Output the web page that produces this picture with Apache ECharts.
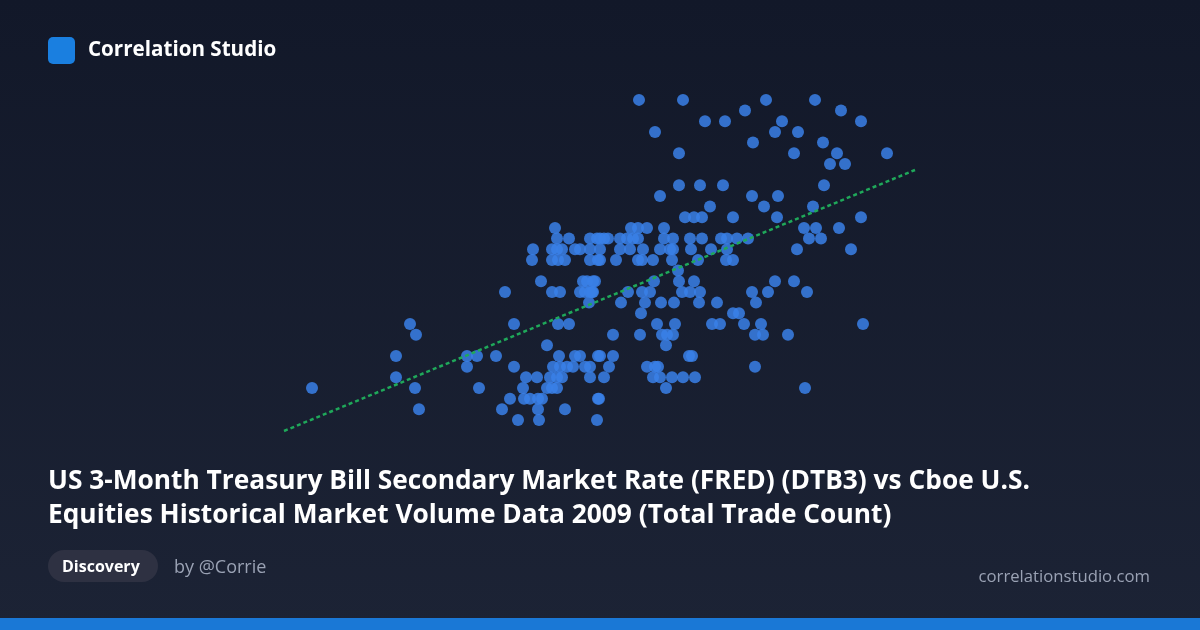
<!DOCTYPE html>
<html>
<head>
<meta charset="utf-8">
<script src="https://cdn.jsdelivr.net/npm/echarts@6/dist/echarts.min.js"></script>
<style>
  html, body { margin: 0; padding: 0; }
  #chart { width: 1200px; height: 630px; }
</style>
</head>
<body>
<div id="chart"></div>
<script>
// 3-month T-bill rate (%) levels, and total trade count (thousands) observed at each level
const rateLevels = [0.01, 0.02, 0.03, 0.04, 0.05, 0.06, 0.07, 0.08, 0.09, 0.10,
  0.11, 0.12, 0.13, 0.14, 0.15, 0.16, 0.17, 0.18, 0.19, 0.20,
  0.21, 0.22, 0.23, 0.24, 0.25, 0.26, 0.27, 0.28, 0.29, 0.30, 0.31];
const tradeCounts = [
  [518, 539, 597],
  [419, 502, 538, 565],
  [510, 524, 530, 538, 542, 598, 599],
  [312, 415, 479, 523, 547, 552, 557, 666, 805],
  [396, 526, 537, 550, 557, 562, 590, 604, 653, 660, 672, 683, 695],
  [467, 514, 553, 560, 567, 573, 585, 590, 609, 647, 655, 658, 755],
  [396, 467, 477, 496, 559, 575, 580, 598, 600, 613, 689, 692],
  [547, 666],
  [416, 613, 640, 662, 667, 673, 755, 763, 788],
  [410, 514, 558, 569, 657, 675, 712, 720, 744, 761, 863],
  [641, 733, 739],
  [589, 621, 645, 661, 674, 699, 717, 756],
  [505, 552, 560, 580, 585, 590, 593, 592, 628, 642, 650, 682, 690, 700, 752, 768, 807],
  [541, 583, 587, 595, 593, 654, 679, 694, 775, 794],
  [678],
  [532, 552, 558, 565, 590, 598, 600, 616, 638, 642, 653, 672, 698, 726, 733],
  [533, 552, 557, 562, 575, 580, 590, 600, 620, 630, 643, 660, 670, 673, 691, 711, 727, 797, 851],
  [557, 569, 590, 597, 600, 604, 608, 620, 627, 633, 638, 664, 673, 690, 702, 721, 727, 737, 748, 809, 821],
  [555, 631, 638, 647, 664, 804, 816, 839],
  [685, 694, 702, 733, 777, 861],
  [710, 764, 813],
  [660, 752, 778],
  [679, 700, 723, 824],
  [],
  [830, 845],
  [679, 794, 837, 887],
  [753, 823],
  [655, 775, 798],
  [705, 725, 782, 861],
  [745, 841],
  [639, 683, 766, 815]
];
// least-squares fit endpoints
const fitCounts = [284, 915];
const fitRates = [-0.0003, 0.2443];

const points = [];
rateLevels.forEach((r, i) => {
  tradeCounts[i].forEach(c => points.push([c, r]));
});

const chart = echarts.init(document.getElementById('chart'));
const font = '"Open Sans", "Noto Sans", sans-serif';

chart.setOption({
  backgroundColor: new echarts.graphic.LinearGradient(0, 0, 0, 1, [
    { offset: 0, color: '#121829' },
    { offset: 1, color: '#1c2335' }
  ]),
  animation: false,
  grid: { left: 0, right: 0, top: 0, bottom: 0 },
  xAxis: { type: 'value', min: 0, max: 1200, show: false },
  yAxis: { type: 'value', min: -0.1868, max: 0.4036, show: false },
  series: [
    {
      type: 'scatter',
      data: points,
      symbolSize: 12,
      itemStyle: { color: '#3a80e8', opacity: 0.85 }
    },
    {
      type: 'line',
      data: fitCounts.map((c, i) => [c, fitRates[i]]),
      symbol: 'none',
      lineStyle: { color: '#1fa85a', width: 2.5, type: [4, 3] }
    }
  ],
  graphic: [
    { type: 'rect', left: 48, top: 37, shape: { width: 27, height: 27, r: 5 }, style: { fill: '#1a7fe0' } },
    { type: 'text', left: 88, top: 40, style: { text: 'Correlation Studio', fill: '#ffffff', font: 'bold 20.6px ' + font } },
    { type: 'text', left: 48, top: 464, style: {
      text: 'US 3-Month Treasury Bill Secondary Market Rate (FRED) (DTB3) vs Cboe U.S.\nEquities Historical Market Volume Data 2009 (Total Trade Count)',
      fill: '#ffffff', font: 'bold 26.3px ' + font, lineHeight: 34.5 } },
    { type: 'rect', left: 48, top: 550, shape: { width: 110, height: 32, r: 16 }, style: { fill: '#2e3142' } },
    { type: 'text', left: 62, top: 559, style: { text: 'Discovery', fill: '#ffffff', font: 'bold 16px ' + font } },
    { type: 'text', left: 174, top: 559, style: { text: 'by @Corrie', fill: '#9aa2b4', font: '18px ' + font } },
    { type: 'text', right: 50, top: 569, style: { text: 'correlationstudio.com', fill: '#9aa2b4', font: '16.7px ' + font } },
    { type: 'rect', left: 0, top: 618, shape: { width: 1200, height: 12 }, style: { fill: '#1a78d6' } }
  ]
});
</script>
</body>
</html>
